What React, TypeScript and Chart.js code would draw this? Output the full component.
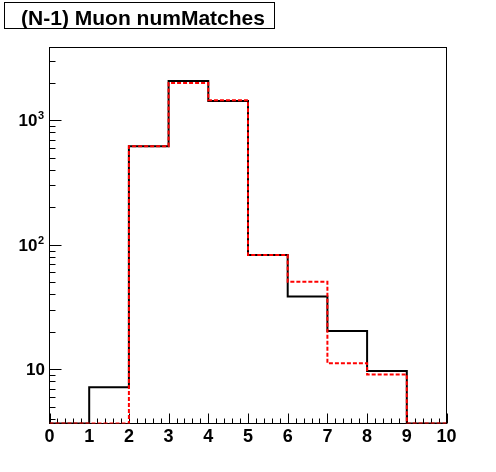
import React, { useEffect, useRef } from "react";
import { Chart, registerables } from "chart.js";

Chart.register(...registerables);

// ---- data ----
const binEdges = [0, 1, 2, 3, 4, 5, 6, 7, 8, 9, 10];
const blackCounts = [0, 7.2, 620, 2070, 1430, 83, 38.5, 20.3, 9.7, 0];
const redCounts = [0, 0, 620, 1990, 1450, 83, 50.5, 11.2, 9.1, 0];
const xTickValues = [0, 1, 2, 3, 4, 5, 6, 7, 8, 9, 10];
const xTickLabels = ["0", "1", "2", "3", "4", "5", "6", "7", "8", "9", "10"];
const yMajorTicks = [10, 100, 1000];
const yMajorBases = ["10", "10", "10"];
const yMajorExponents = ["", "2", "3"];
const titleText = "(N-1) Muon numMatches";
const Y_MIN = 3.675;
const Y_MAX = 3841;
const X_MIN = 0;
const X_MAX = 10;

const FONT = '"Liberation Sans", Arial, Helvetica, sans-serif';

function toSteps(counts: number[]) {
  const pts = counts.map((v, i) => ({ x: binEdges[i], y: Math.max(v, Y_MIN) }));
  pts.push({ x: binEdges[binEdges.length - 1], y: Math.max(counts[counts.length - 1], Y_MIN) });
  return pts;
}

const framePlugin = {
  id: "rootFrame",
  beforeDatasetsDraw(chart: any) {
    const { ctx, chartArea } = chart;
    const xs = chart.scales.x;
    const ys = chart.scales.y;
    ctx.save();
    ctx.strokeStyle = "#000";
    ctx.lineWidth = 1;
    ctx.strokeRect(chartArea.left, chartArea.top, chartArea.right - chartArea.left, chartArea.bottom - chartArea.top);
    ctx.beginPath();
    for (let i = 0; i <= 50; i++) {
      const v = X_MIN + (i * (X_MAX - X_MIN)) / 50;
      const px = Math.round(xs.getPixelForValue(v)) + 0.5;
      const len = i % 5 === 0 ? 10 : 5;
      ctx.moveTo(px, chartArea.bottom);
      ctx.lineTo(px, chartArea.bottom - len);
    }
    for (let dec = 1; dec <= 1000; dec *= 10) {
      for (let m = 1; m <= 9; m++) {
        const v = dec * m;
        if (v < Y_MIN || v > Y_MAX) continue;
        const py = Math.round(ys.getPixelForValue(v)) + 0.5;
        const len = m === 1 && dec >= 10 ? 12 : 6;
        ctx.moveTo(chartArea.left, py);
        ctx.lineTo(chartArea.left + len, py);
      }
    }
    ctx.stroke();
    ctx.restore();
  },
  afterDraw(chart: any) {
    const { ctx, chartArea } = chart;
    const xs = chart.scales.x;
    const ys = chart.scales.y;
    ctx.save();
    ctx.fillStyle = "#000";
    ctx.font = `bold 18px ${FONT}`;
    ctx.textAlign = "center";
    ctx.textBaseline = "alphabetic";
    xTickValues.forEach((v, i) => {
      ctx.fillText(xTickLabels[i], xs.getPixelForValue(v), chartArea.bottom + 18.5);
    });
    yMajorTicks.forEach((v, i) => {
      const py = ys.getPixelForValue(v);
      const exp = yMajorExponents[i];
      let right = 44;
      if (exp) {
        ctx.font = `bold 11px ${FONT}`;
        ctx.textAlign = "right";
        ctx.fillText(exp, right, py - 1);
        right -= ctx.measureText(exp).width + 0.5;
      } else {
        right = 45;
      }
      ctx.font = `bold 17px ${FONT}`;
      ctx.textAlign = "right";
      ctx.fillText(yMajorBases[i], right, py + 6);
    });
    ctx.fillStyle = "#fff";
    ctx.fillRect(4.5, 2.5, 270, 26);
    ctx.strokeStyle = "#000";
    ctx.lineWidth = 1;
    ctx.strokeRect(4.5, 2.5, 270, 26);
    ctx.fillStyle = "#000";
    ctx.font = `bold 21px ${FONT}`;
    ctx.textAlign = "center";
    ctx.fillText(titleText, 143, 25);
    ctx.restore();
  },
};

export default function App() {
  const canvasRef = useRef<HTMLCanvasElement | null>(null);

  useEffect(() => {
    document.body.style.margin = "0";
    const canvas = canvasRef.current;
    if (!canvas) return;
    const chart = new Chart(canvas, {
      type: "line",
      data: {
        datasets: [
          {
            label: "red",
            data: toSteps(redCounts),
            borderColor: "#ff0000",
            borderWidth: 2,
            borderDash: [4, 2],
            stepped: true,
            pointRadius: 0,
            fill: false,
            order: 0,
            borderCapStyle: "butt",
            borderJoinStyle: "miter",
          },
          {
            label: "black",
            data: toSteps(blackCounts),
            borderColor: "#000000",
            borderWidth: 2,
            stepped: true,
            pointRadius: 0,
            fill: false,
            order: 1,
            borderCapStyle: "butt",
            borderJoinStyle: "miter",
          },
        ],
      },
      options: {
        responsive: false,
        animation: false,
        devicePixelRatio: 1,
        layout: { padding: { left: 49.5, right: 49.5, top: 47.5, bottom: 48.5 } },
        plugins: { legend: { display: false }, tooltip: { enabled: false }, title: { display: false } },
        events: [],
        scales: {
          x: { type: "linear", display: false, min: X_MIN, max: X_MAX },
          y: { type: "logarithmic", display: false, min: Y_MIN, max: Y_MAX },
        },
      },
      plugins: [framePlugin],
    });
    return () => chart.destroy();
  }, []);

  return (
    <div style={{ width: 496, height: 472, background: "#fff" }}>
      <canvas ref={canvasRef} width={496} height={472} style={{ display: "block" }} />
    </div>
  );
}
